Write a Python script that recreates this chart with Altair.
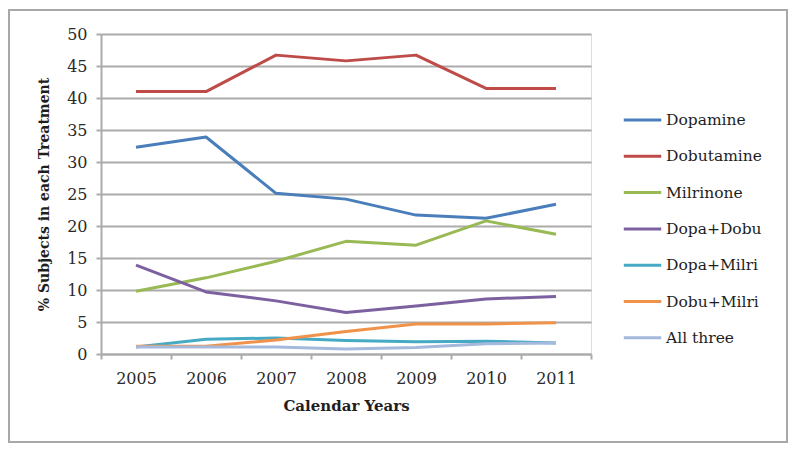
import altair as alt
import pandas as pd

years = [2005, 2006, 2007, 2008, 2009, 2010, 2011]
series_names = ["Dopamine", "Dobutamine", "Milrinone", "Dopa+Dobu",
                "Dopa+Milri", "Dobu+Milri", "All three"]
dopamine = [32.3, 33.9, 25.1, 24.2, 21.7, 21.2, 23.4]
dobutamine = [41.0, 41.0, 46.7, 45.8, 46.7, 41.5, 41.5]
milrinone = [9.8, 11.9, 14.5, 17.6, 17.0, 20.8, 18.7]
dopa_dobu = [13.9, 9.7, 8.3, 6.5, 7.5, 8.6, 9.0]
dopa_milri = [1.1, 2.3, 2.5, 2.1, 1.9, 2.0, 1.7]
dobu_milri = [1.2, 1.2, 2.2, 3.5, 4.7, 4.7, 4.9]
all_three = [1.1, 1.1, 1.1, 0.8, 1.0, 1.6, 1.7]
colors = ["#4A7EBB", "#BE4B48", "#98B954", "#7D60A0",
          "#46AAC5", "#F0924A", "#A5B9DD"]

series_values = [dopamine, dobutamine, milrinone, dopa_dobu,
                 dopa_milri, dobu_milri, all_three]
rows = []
for name, vals in zip(series_names, series_values):
    for y, v in zip(years, vals):
        rows.append({"year": y, "value": v, "series": name})
df = pd.DataFrame(rows)

FONT = "DejaVu Serif"
GRAY = "#ABABAB"

lines = alt.Chart(df).mark_line(strokeWidth=3, strokeJoin="round").encode(
    x=alt.X("year:Q",
            scale=alt.Scale(domain=[2004.5, 2011.5], nice=False, zero=False),
            axis=alt.Axis(
                values=[2004.5, 2005.5, 2006.5, 2007.5, 2008.5, 2009.5, 2010.5, 2011.5],
                labelExpr="datum.value < 2011 ? format(datum.value + 0.5, 'd') : ''",
                labelOffset=35, labelFlush=False, labelOverlap=False, labelBound=False,
                grid=False, tickSize=5, tickColor=GRAY, tickWidth=2,
                domainColor=GRAY, domainWidth=2, labelFont=FONT, labelFontSize=16,
                labelColor="#2A2A2A", labelPadding=11,
                title="Calendar Years", titleFont=FONT, titleFontSize=15,
                titleFontWeight="bold", titleColor="#1E1E1E", titlePadding=12)),
    y=alt.Y("value:Q",
            scale=alt.Scale(domain=[0, 50], nice=False),
            axis=alt.Axis(
                values=[0, 5, 10, 15, 20, 25, 30, 35, 40, 45, 50],
                grid=True, gridColor=GRAY, gridWidth=2, tickSize=5,
                tickColor=GRAY, tickWidth=2, domainColor=GRAY, domainWidth=2,
                labelFont=FONT, labelFontSize=16, labelColor="#2A2A2A",
                labelPadding=9,
                title="% Subjects in each Treatment", titleFont=FONT,
                titleFontSize=14, titleFontWeight="bold", titleColor="#1E1E1E",
                titlePadding=15)),
    color=alt.Color("series:N",
                    scale=alt.Scale(domain=series_names, range=colors),
                    legend=alt.Legend(
                        title=None, orient="none", legendX=521, legendY=76,
                        symbolType="stroke", symbolSize=1400, symbolStrokeWidth=3,
                        labelFont=FONT, labelFontSize=15.5, labelColor="#1E1E1E",
                        clipHeight=20, rowPadding=16.3, labelOffset=3)),
    order=alt.Order("series:N"),
)

frame = alt.Chart(alt.Data(values=[{}])).mark_rect(
    fill=None, stroke="#A8A8A8", strokeWidth=2).encode(
    x=alt.value(-92), x2=alt.value(686), y=alt.value(-24), y2=alt.value(408))

chart = alt.layer(frame, lines).properties(
    width=490, height=320,
    autosize=alt.AutoSizeParams(type="none"),
    padding={"left": 93, "top": 26, "right": 201, "bottom": 92},
).configure_view(stroke=None).configure(background="white")

chart.save("out.html", embed_options={"renderer": "svg", "actions": False})
